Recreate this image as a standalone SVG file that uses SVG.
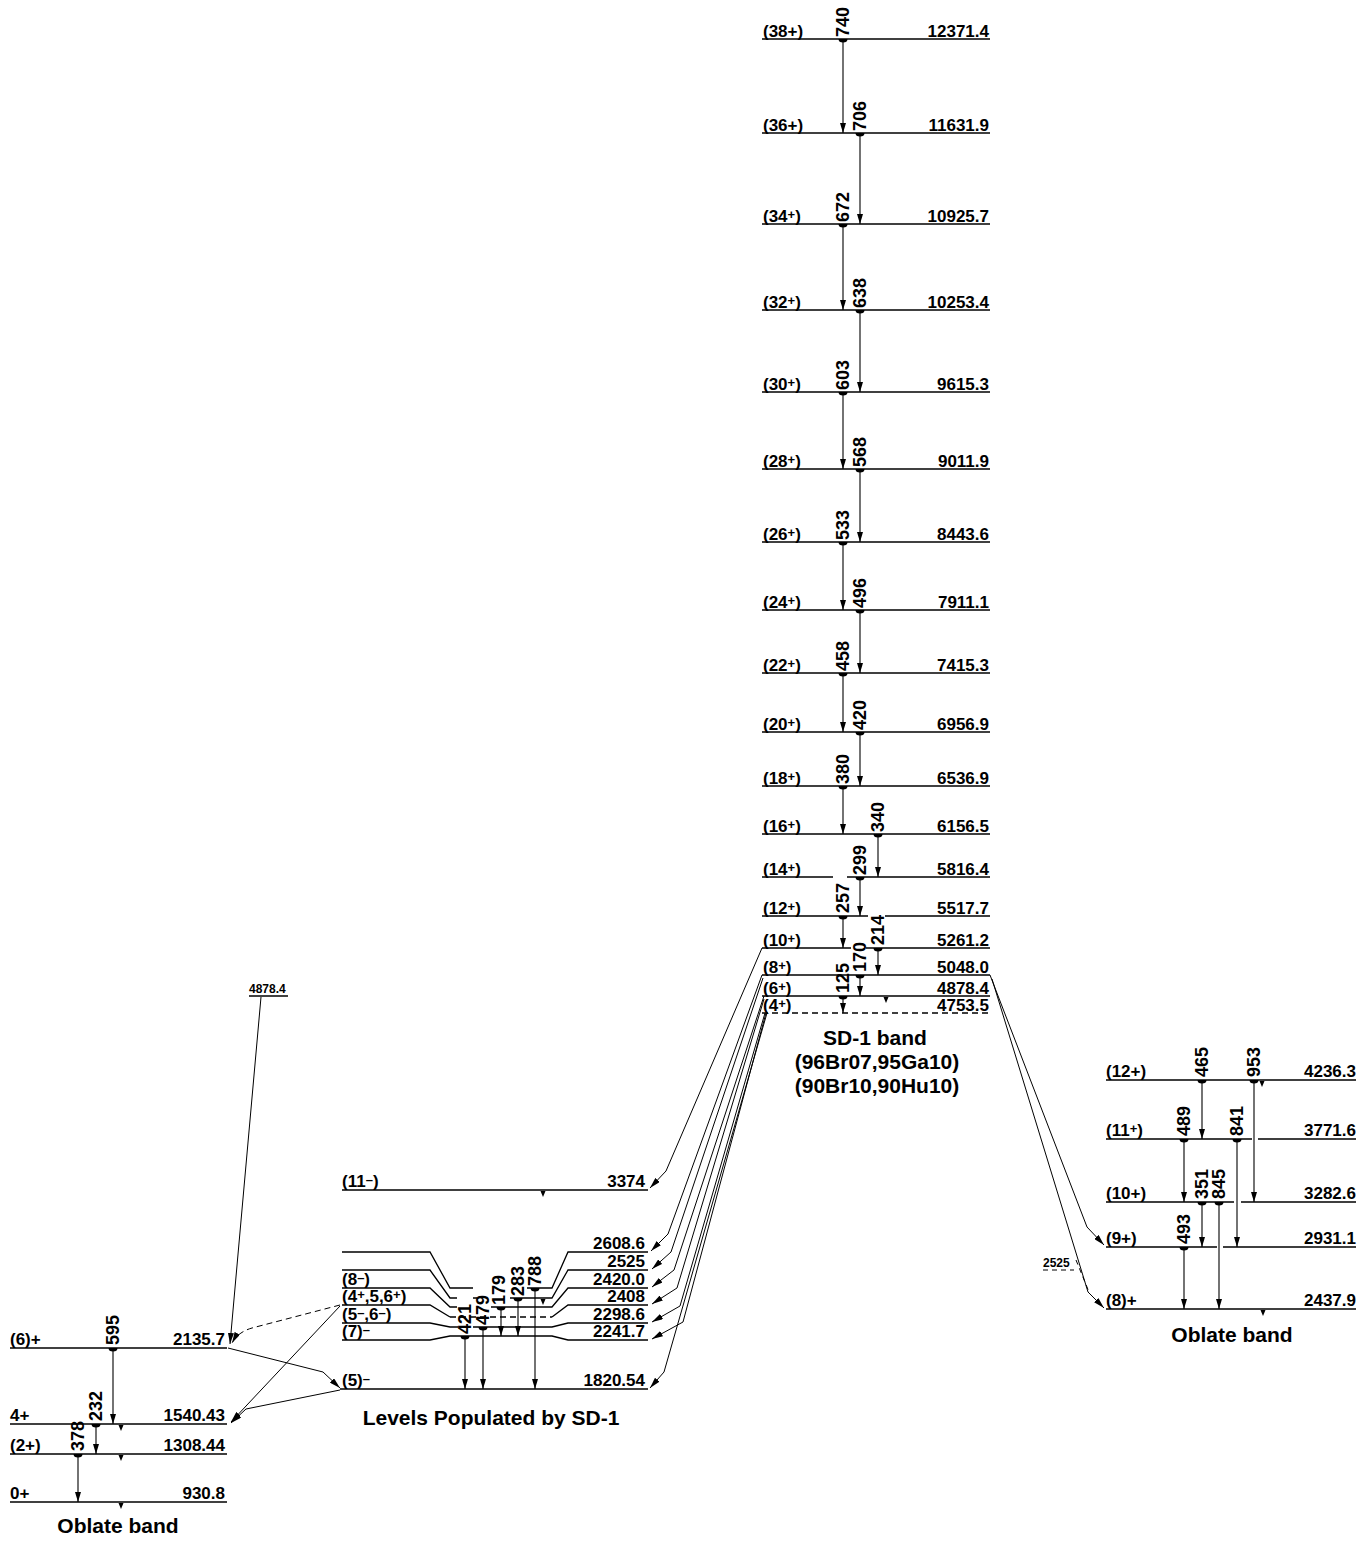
<svg xmlns="http://www.w3.org/2000/svg" width="1369" height="1541" viewBox="0 0 1369 1541">
<defs>
<style>
.lv{stroke:#000;stroke-width:1.3;fill:none}
.ds{stroke-dasharray:6,4}
.tr{stroke:#000;stroke-width:1.1;fill:none;marker-start:url(#hd);marker-end:url(#ah)}
.fl{stroke:#000;stroke-width:1;fill:none;marker-end:url(#ah2)}
.dl{stroke:#000;stroke-width:1;fill:none;stroke-dasharray:5,4}
text{font-family:"Liberation Sans",Arial,Helvetica,sans-serif;font-weight:bold;fill:#000}
.l{font-size:17px}
.r{font-size:17px;text-anchor:end}
.g{font-size:18px}
.h{font-size:21px;text-anchor:middle}
.s{font-size:12px}
.sp{font-size:13px}
</style>
<marker id="ah" viewBox="0 0 10 6" refX="10" refY="3" markerWidth="10" markerHeight="6" markerUnits="userSpaceOnUse" orient="auto"><path d="M0,0L10,3L0,6z"/></marker>
<marker id="ah2" viewBox="0 0 11 6" refX="11" refY="3" markerWidth="11" markerHeight="6" markerUnits="userSpaceOnUse" orient="auto"><path d="M0,0L11,3L0,6z"/></marker>
<marker id="hd" viewBox="0 -5 5 10" refX="0" refY="0" markerWidth="5" markerHeight="10" markerUnits="userSpaceOnUse" orient="auto"><path d="M0,-4.5A3.5,4.5 0 0 1 0,4.5z"/></marker>
<path id="tk" d="M-2.5,1h5l-2.5,6z"/>
</defs>
<rect width="1369" height="1541" fill="#fff"/>

<!-- SD-1 band levels -->
<g id="L12371"><path class="lv" d="M762,39H990"/><text class="l" x="763" y="37">(38+)</text><text class="r" x="989" y="37">12371.4</text></g>
<g id="L11631"><path class="lv" d="M762,133H990"/><text class="l" x="763" y="131">(36+)</text><text class="r" x="989" y="131">11631.9</text></g>
<g id="L10925"><path class="lv" d="M762,224H990"/><text class="l" x="763" y="222">(34<tspan class="sp" dy="-3">+</tspan><tspan dy="3">)</tspan></text><text class="r" x="989" y="222">10925.7</text></g>
<g id="L10253"><path class="lv" d="M762,310H990"/><text class="l" x="763" y="308">(32<tspan class="sp" dy="-3">+</tspan><tspan dy="3">)</tspan></text><text class="r" x="989" y="308">10253.4</text></g>
<g id="L9615"><path class="lv" d="M762,392H990"/><text class="l" x="763" y="390">(30<tspan class="sp" dy="-3">+</tspan><tspan dy="3">)</tspan></text><text class="r" x="989" y="390">9615.3</text></g>
<g id="L9011"><path class="lv" d="M762,469H990"/><text class="l" x="763" y="467">(28<tspan class="sp" dy="-3">+</tspan><tspan dy="3">)</tspan></text><text class="r" x="989" y="467">9011.9</text></g>
<g id="L8443"><path class="lv" d="M762,542H990"/><text class="l" x="763" y="540">(26<tspan class="sp" dy="-3">+</tspan><tspan dy="3">)</tspan></text><text class="r" x="989" y="540">8443.6</text></g>
<g id="L7911"><path class="lv" d="M762,610H990"/><text class="l" x="763" y="608">(24<tspan class="sp" dy="-3">+</tspan><tspan dy="3">)</tspan></text><text class="r" x="989" y="608">7911.1</text></g>
<g id="L7415"><path class="lv" d="M762,673H990"/><text class="l" x="763" y="671">(22<tspan class="sp" dy="-3">+</tspan><tspan dy="3">)</tspan></text><text class="r" x="989" y="671">7415.3</text></g>
<g id="L6956"><path class="lv" d="M762,732H990"/><text class="l" x="763" y="730">(20<tspan class="sp" dy="-3">+</tspan><tspan dy="3">)</tspan></text><text class="r" x="989" y="730">6956.9</text></g>
<g id="L6536"><path class="lv" d="M762,786H990"/><text class="l" x="763" y="784">(18<tspan class="sp" dy="-3">+</tspan><tspan dy="3">)</tspan></text><text class="r" x="989" y="784">6536.9</text></g>
<g id="L6156"><path class="lv" d="M762,834H990"/><text class="l" x="763" y="832">(16<tspan class="sp" dy="-3">+</tspan><tspan dy="3">)</tspan></text><text class="r" x="989" y="832">6156.5</text></g>
<g id="L5816"><path class="lv" d="M762,877H833M847,877H990"/><text class="l" x="763" y="875">(14<tspan class="sp" dy="-3">+</tspan><tspan dy="3">)</tspan></text><text class="r" x="989" y="875">5816.4</text></g>
<g id="L5517"><path class="lv" d="M762,916H868M885,916H990"/><text class="l" x="763" y="914">(12<tspan class="sp" dy="-3">+</tspan><tspan dy="3">)</tspan></text><text class="r" x="989" y="914">5517.7</text></g>
<g id="L5261"><path class="lv" d="M762,948H851M866,948H990"/><text class="l" x="763" y="946">(10<tspan class="sp" dy="-3">+</tspan><tspan dy="3">)</tspan></text><text class="r" x="989" y="946">5261.2</text></g>
<g id="L5048"><path class="lv" d="M762,975H990"/><text class="l" x="763" y="973">(8<tspan class="sp" dy="-3">+</tspan><tspan dy="3">)</tspan></text><text class="r" x="989" y="973">5048.0</text></g>
<g id="L4878"><path class="lv" d="M762,996H990"/><use href="#tk" x="886" y="996"/><text class="l" x="763" y="994">(6<tspan class="sp" dy="-3">+</tspan><tspan dy="3">)</tspan></text><text class="r" x="989" y="994">4878.4</text></g>
<g id="L4753"><path class="lv ds" d="M762,1013H990"/><text class="l" x="763" y="1011">(4<tspan class="sp" dy="-3">+</tspan><tspan dy="3">)</tspan></text><text class="r" x="989" y="1011">4753.5</text></g>
<g id="SDtitle"><text class="h" x="875" y="1045">SD-1 band</text><text class="h" x="877" y="1069">(96Br07,95Ga10)</text><text class="h" x="877" y="1093">(90Br10,90Hu10)</text></g>

<!-- Middle levels -->
<g id="L3374"><path class="lv" d="M342,1190H648"/><use href="#tk" x="543" y="1190"/><text class="l" x="342" y="1187">(11<tspan class="sp" dy="-3">–</tspan><tspan dy="3">)</tspan></text><text class="r" x="645" y="1187">3374</text></g>
<g id="L2608"><path class="lv" d="M342,1252H430L450,1288H473M527,1288H552L568,1252H648"/><text class="r" x="645" y="1249">2608.6</text></g>
<g id="L2525"><path class="lv" d="M342,1270H430L450,1298H457M473,1298H477M510,1298H552L568,1270H648"/><use href="#tk" x="543" y="1298"/><text class="r" x="645" y="1267">2525</text></g>
<g id="L2420"><path class="lv" d="M342,1288H430L450,1307H457M491,1307H552L568,1288H648"/><text class="l" x="342" y="1285">(8<tspan class="sp" dy="-3">–</tspan><tspan dy="3">)</tspan></text><text class="r" x="645" y="1285">2420.0</text></g>
<g id="L2408"><path class="lv" d="M342,1305H430L450,1317M552,1317L568,1305H648"/><path class="lv ds" d="M450,1317H552"/><text class="l" x="342" y="1302">(4<tspan class="sp" dy="-3">+</tspan><tspan dy="3">,5,6</tspan><tspan class="sp" dy="-3">+</tspan><tspan dy="3">)</tspan></text><text class="r" x="645" y="1302">2408</text></g>
<g id="L2298"><path class="lv" d="M342,1323H430L450,1327H458M473,1327H552L568,1323H648"/><text class="l" x="342" y="1320">(5<tspan class="sp" dy="-3">–</tspan><tspan dy="3">,6</tspan><tspan class="sp" dy="-3">–</tspan><tspan dy="3">)</tspan></text><text class="r" x="645" y="1320">2298.6</text></g>
<g id="L2241"><path class="lv" d="M342,1340H430L450,1336H552L568,1340H648"/><text class="l" x="342" y="1337">(7)<tspan class="sp" dy="-3">–</tspan></text><text class="r" x="645" y="1337">2241.7</text></g>
<g id="L1820"><path class="lv" d="M340,1389H648"/><text class="l" x="342" y="1386">(5)<tspan class="sp" dy="-3">–</tspan></text><text class="r" x="645" y="1386">1820.54</text></g>
<text class="h" x="491" y="1425">Levels Populated by SD-1</text>

<!-- Left oblate band -->
<g id="L2135"><path class="lv" d="M10,1348H227"/><text class="l" x="10" y="1345">(6)+</text><text class="r" x="225" y="1345">2135.7</text></g>
<g id="L1540"><path class="lv" d="M10,1424H227"/><use href="#tk" x="121" y="1424"/><text class="l" x="10" y="1421">4+</text><text class="r" x="225" y="1421">1540.43</text></g>
<g id="L1308"><path class="lv" d="M10,1454H227"/><use href="#tk" x="121" y="1454"/><text class="l" x="10" y="1451">(2+)</text><text class="r" x="225" y="1451">1308.44</text></g>
<g id="L930"><path class="lv" d="M10,1502H227"/><use href="#tk" x="121" y="1502"/><text class="l" x="10" y="1499">0+</text><text class="r" x="225" y="1499">930.8</text></g>
<text class="h" x="118" y="1533">Oblate band</text>
<g id="M4878"><path class="lv" d="M249,996H288" stroke-width="1"/><text class="s" x="249" y="993">4878.4</text></g>

<!-- Right oblate band -->
<g id="L4236"><path class="lv" d="M1106,1080H1356"/><use href="#tk" x="1262" y="1080"/><text class="l" x="1106" y="1077">(12+)</text><text class="r" x="1356" y="1077">4236.3</text></g>
<g id="L3771"><path class="lv" d="M1106,1139H1252M1258,1139H1356"/><text class="l" x="1106" y="1136">(11<tspan class="sp" dy="-3">+</tspan><tspan dy="3">)</tspan></text><text class="r" x="1356" y="1136">3771.6</text></g>
<g id="L3282"><path class="lv" d="M1106,1202H1234M1241,1202H1356"/><text class="l" x="1106" y="1199">(10+)</text><text class="r" x="1356" y="1199">3282.6</text></g>
<g id="L2931"><path class="lv" d="M1106,1247H1217M1223,1247H1356"/><text class="l" x="1106" y="1244">(9+)</text><text class="r" x="1356" y="1244">2931.1</text></g>
<g id="L2437"><path class="lv" d="M1106,1309H1356"/><use href="#tk" x="1263" y="1309"/><text class="l" x="1106" y="1306">(8)+</text><text class="r" x="1356" y="1306">2437.9</text></g>
<g id="M2525"><path class="dl" d="M1043,1270H1074"/><text class="s" x="1043" y="1267">2525</text></g>
<text class="h" x="1232" y="1342">Oblate band</text>

<!-- Connectors / transitions -->
<g id="connectors">
<path class="tr" d="M843,39V133"/><text class="g" transform="translate(849,37) rotate(-90)">740</text>
<path class="tr" d="M860,133V224"/><text class="g" transform="translate(866,131) rotate(-90)">706</text>
<path class="tr" d="M843,224V310"/><text class="g" transform="translate(849,222) rotate(-90)">672</text>
<path class="tr" d="M860,310V392"/><text class="g" transform="translate(866,308) rotate(-90)">638</text>
<path class="tr" d="M843,392V469"/><text class="g" transform="translate(849,390) rotate(-90)">603</text>
<path class="tr" d="M860,469V542"/><text class="g" transform="translate(866,467) rotate(-90)">568</text>
<path class="tr" d="M843,542V610"/><text class="g" transform="translate(849,540) rotate(-90)">533</text>
<path class="tr" d="M860,610V673"/><text class="g" transform="translate(866,608) rotate(-90)">496</text>
<path class="tr" d="M843,673V732"/><text class="g" transform="translate(849,671) rotate(-90)">458</text>
<path class="tr" d="M860,732V786"/><text class="g" transform="translate(866,730) rotate(-90)">420</text>
<path class="tr" d="M843,786V834"/><text class="g" transform="translate(849,784) rotate(-90)">380</text>
<path class="tr" d="M878,834V877"/><text class="g" transform="translate(884,832) rotate(-90)">340</text>
<path class="tr" d="M860,877V916"/><text class="g" transform="translate(866,875) rotate(-90)">299</text>
<path class="tr" d="M843,916V948"/><text class="g" transform="translate(849,913) rotate(-90)">257</text>
<path class="tr" d="M878,948V975"/><text class="g" transform="translate(884,945) rotate(-90)">214</text>
<path class="tr" d="M860,975V996"/><text class="g" transform="translate(866,972) rotate(-90)">170</text>
<path class="tr" d="M843,996V1013"/><text class="g" transform="translate(849,993) rotate(-90)">125</text>

<path class="tr" d="M465,1336V1389"/><text class="g" transform="translate(471,1334) rotate(-90)">421</text>
<path class="tr" d="M483,1327V1389"/><text class="g" transform="translate(489,1325) rotate(-90)">479</text>
<path class="tr" d="M501,1307V1336"/><text class="g" transform="translate(505,1305) rotate(-90)">179</text>
<path class="tr" d="M518,1298V1336"/><text class="g" transform="translate(524,1296) rotate(-90)">283</text>
<path class="tr" d="M535,1288V1389"/><text class="g" transform="translate(541,1286) rotate(-90)">788</text>

<path class="tr" d="M113,1348V1424"/><text class="g" transform="translate(119,1345) rotate(-90)">595</text>
<path class="tr" d="M96,1424V1454"/><text class="g" transform="translate(102,1421) rotate(-90)">232</text>
<path class="tr" d="M78,1454V1502"/><text class="g" transform="translate(84,1451) rotate(-90)">378</text>

<path class="tr" d="M1202,1080V1139"/><text class="g" transform="translate(1208,1077) rotate(-90)">465</text>
<path class="tr" d="M1254,1080V1202"/><text class="g" transform="translate(1260,1077) rotate(-90)">953</text>
<path class="tr" d="M1184,1139V1202"/><text class="g" transform="translate(1190,1136) rotate(-90)">489</text>
<path class="tr" d="M1237,1139V1247"/><text class="g" transform="translate(1243,1136) rotate(-90)">841</text>
<path class="tr" d="M1202,1202V1247"/><text class="g" transform="translate(1208,1199) rotate(-90)">351</text>
<path class="tr" d="M1219,1202V1309"/><text class="g" transform="translate(1225,1199) rotate(-90)">845</text>
<path class="tr" d="M1184,1247V1309"/><text class="g" transform="translate(1190,1244) rotate(-90)">493</text>

<path class="fl" d="M762,948L666,1171L650,1188"/>
<path class="fl" d="M762,975L668,1234L651,1251"/>
<path class="fl" d="M763,978L671,1252L652,1269"/>
<path class="fl" d="M764,996L674,1270L652,1287"/>
<path class="fl" d="M764,999L677,1288L652,1304"/>
<path class="fl" d="M765,1013L680,1306L652,1322"/>
<path class="fl" d="M766,1013L683,1322L652,1339"/>
<path class="fl" d="M767,1013L664,1372L650,1388"/>

<path class="fl" d="M990,975L1087,1227L1104,1245"/>
<path class="fl" d="M992,979L1088,1292L1104,1308"/>
<path class="dl" d="M1076,1260L1089,1292"/>

<path class="fl" d="M261,997L230,1344"/>
<path class="fl" stroke-dasharray="6,4" d="M340,1305L252,1328Q238,1332 232,1343"/>
<path class="fl" d="M228,1348L323,1372L340,1388"/>
<path class="fl" d="M340,1306L231,1422"/>
<path class="fl" d="M340,1390L246,1409L231,1423"/>
</g>
</svg>
